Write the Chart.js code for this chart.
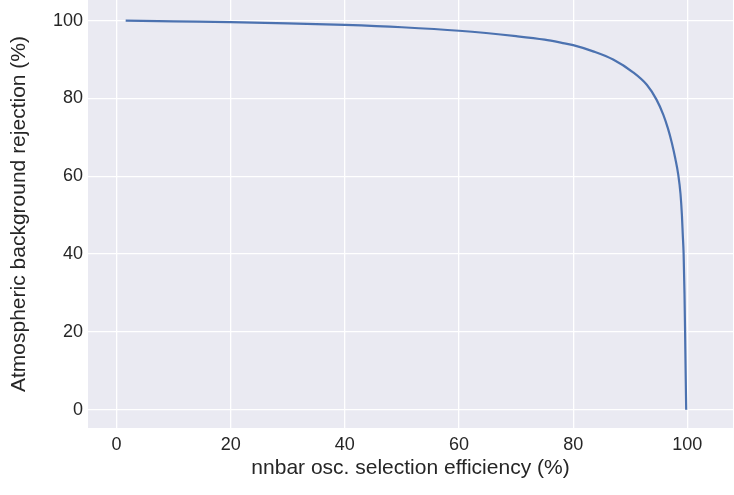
<!DOCTYPE html>
<html>
<head>
<meta charset="utf-8">
<script src="https://cdn.jsdelivr.net/npm/chart.js@4/dist/chart.umd.min.js"></script>
<style>
  html, body { margin: 0; padding: 0; background: #ffffff; }
  #wrap { width: 734px; height: 495px; position: relative; }
</style>
</head>
<body>
<div id="wrap"><canvas id="c" width="734" height="495"></canvas></div>
<script>
// Signal selection efficiency (%) and background rejection (%)
const efficiency = [1.6, 10, 20, 30, 40, 50, 60, 70, 75, 78, 80, 83.5, 87, 90.5, 92.9, 94.6, 95.8, 96.6, 97.3, 97.9, 98.4, 98.8, 99.05, 99.2, 99.35, 99.5, 99.6, 99.7, 99.8];
const rejection  = [100.0, 99.8, 99.6, 99.3, 98.9, 98.3, 97.4, 96.0, 95.1, 94.3, 93.7, 92.1, 90.0, 86.7, 83.5, 79.7, 75.8, 72.3, 68.5, 64.5, 60.5, 55.5, 50.0, 45.0, 40.0, 30.0, 20.6, 10.0, 0.0];
const xTicks = [0, 20, 40, 60, 80, 100];
const yTicks = [0, 20, 40, 60, 80, 100];
const xLabel = 'nnbar osc. selection efficiency (%)';
const yLabel = 'Atmospheric background rejection (%)';

const points = efficiency.map((x, i) => ({ x: x, y: rejection[i] }));

const bgPlugin = {
  id: 'plotBg',
  beforeDraw(chart) {
    const { ctx, chartArea: a } = chart;
    ctx.save();
    ctx.fillStyle = '#eaeaf2';
    ctx.fillRect(a.left, a.top, a.right - a.left, a.bottom - a.top);
    ctx.restore();
  }
};

const tickColor = '#262626';
const fontFamily = '"Liberation Sans", Arial, sans-serif';

new Chart(document.getElementById('c'), {
  type: 'scatter',
  data: {
    datasets: [{
      data: points,
      showLine: true,
      borderColor: '#4c72b0',
      borderWidth: 2.2,
      pointRadius: 0,
      pointHoverRadius: 0,
      fill: false,
      cubicInterpolationMode: 'monotone'
    }]
  },
  options: {
    responsive: false,
    animation: false,
    layout: { padding: { left: 0, right: 1, top: 0, bottom: 0 } },
    plugins: { legend: { display: false }, tooltip: { enabled: false } },
    scales: {
      x: {
        type: 'linear',
        min: -5.0,
        max: 108.0,
        afterBuildTicks(axis) { axis.ticks = xTicks.map(v => ({ value: v })); },
        afterFit(axis) { axis.height = 67; axis.paddingLeft = 0; axis.paddingRight = 0; },
        border: { display: false },
        grid: { color: '#ffffff', lineWidth: 1.3, tickLength: 0, drawTicks: false },
        ticks: { color: tickColor, padding: 6, font: { family: fontFamily, size: 18 }, maxRotation: 0 },
        title: { display: true, text: xLabel, color: tickColor, font: { family: fontFamily, size: 21 }, padding: { top: 0, bottom: 14 } }
      },
      y: {
        type: 'linear',
        min: -4.7,
        max: 105.3,
        afterBuildTicks(axis) { axis.ticks = yTicks.map(v => ({ value: v })); },
        afterFit(axis) { axis.width = 88; axis.paddingTop = 0; axis.paddingBottom = 0; },
        border: { display: false },
        grid: { color: '#ffffff', lineWidth: 1.3, tickLength: 0, drawTicks: false },
        ticks: { color: tickColor, padding: 5, font: { family: fontFamily, size: 18 } },
        title: { display: true, text: yLabel, color: tickColor, font: { family: fontFamily, size: 21 }, padding: { top: 7, bottom: 0 } }
      }
    }
  },
  plugins: [bgPlugin]
});
</script>
</body>
</html>
